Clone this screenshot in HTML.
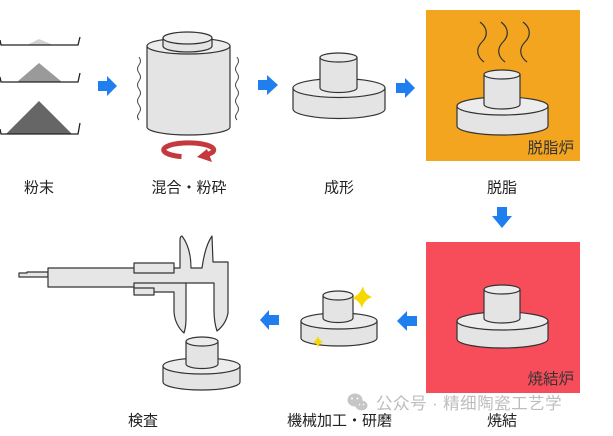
<!DOCTYPE html>
<html><head><meta charset="utf-8"><style>
html,body{margin:0;padding:0;background:#fff;}
svg{display:block;}
text{font-family:"Liberation Sans","Noto Sans CJK JP",sans-serif;}
</style></head><body>
<svg width="613" height="436" viewBox="0 0 613 436" xmlns="http://www.w3.org/2000/svg">
<rect width="613" height="436" fill="#fff"/>

<!-- Powder trays -->
<polygon points="27,45 39,39 53,45" fill="#d2d2d2"/>
<polyline points="0,40 1,45 78,45 80,37" fill="none" stroke="#222" stroke-width="1.3"/>
<polygon points="17,82 39,63 62,82" fill="#9a9a9a"/>
<polyline points="0,77 1,82 78,82 80,73" fill="none" stroke="#222" stroke-width="1.3"/>
<polygon points="6,134 39,101 72,134" fill="#666"/>
<polyline points="0,129 1,134 78,134 80,123" fill="none" stroke="#222" stroke-width="1.3"/>

<!-- Blue arrows -->
<g fill="#1f7fef">
<polygon points="98,81 107,81 107,76 117,86 107,96 107,91 98,91"/>
<polygon points="258,80 267,80 267,75 278,85 267,95 267,90 258,90"/>
<polygon points="396,83 405,83 405,78 415,88 405,98 405,93 396,93"/>
<polygon points="497,207 507,207 507,216 512,216 502,228 492,216 497,216"/>
<polygon points="417,316 407,316 407,311 397,321 407,331 407,326 417,326"/>
<polygon points="279,315 269,315 269,310 260,320 269,330 269,325 279,325"/>
</g>

<!-- Mixing cylinder -->
<g stroke="#333" stroke-width="1.2">
<path d="M147,46 L147,127 A41.5,8 0 0 0 230,127 L230,46 Z" fill="#e4e4e4"/>
<ellipse cx="188.5" cy="46" rx="41.5" ry="8" fill="#ececec"/>
<path d="M163,38 L163,46 A24.5,6 0 0 0 212,46 L212,38 Z" fill="#e4e4e4"/>
<ellipse cx="187.5" cy="38" rx="24.5" ry="6" fill="#ececec"/>
</g>
<g fill="none" stroke="#444" stroke-width="1">
<path d="M139,57 q3,4 0,8 q-3,4 0,8 q3,4 0,8 q-3,4 0,8 q3,4 0,8 q-3,4 0,8 q3,4 0,8 q-3,4 0,7"/>
<path d="M237,57 q3,4 0,8 q-3,4 0,8 q3,4 0,8 q-3,4 0,8 q3,4 0,8 q-3,4 0,8 q3,4 0,8 q-3,4 0,7"/>
</g>
<!-- rotation arrow -->
<path d="M181.5,156.6 A25,7 0 1 1 205,155.2" fill="none" stroke="#c4393d" stroke-width="5"/>
<polygon points="197,157 207,149 212,162" fill="#c4393d"/>

<!-- Forming workpiece -->
<g stroke="#333" stroke-width="1.2">
<path d="M293,88 L293,109 A46,9.5 0 0 0 385,109 L385,88 Z" fill="#e4e4e4"/>
<ellipse cx="339" cy="88" rx="46" ry="9.5" fill="#ececec"/>
<path d="M320,57.5 L320,88 A18.5,4.5 0 0 0 357,88 L357,57.5 Z" fill="#e4e4e4"/>
<ellipse cx="338.5" cy="57.5" rx="18.5" ry="4.5" fill="#ececec"/>
</g>

<!-- Debinding furnace -->
<rect x="426" y="10" width="154" height="151" fill="#f3a520"/>
<g fill="none" stroke="#333" stroke-width="1.2">
<path d="M480,22 C488,28 488,36 482,42 C476,48 476,56 484,62"/>
<path d="M501,22 C509,28 509,36 503,42 C497,48 497,56 505,62"/>
<path d="M523,22 C531,28 531,36 525,42 C519,48 519,56 527,62"/>
</g>
<g stroke="#333" stroke-width="1.2">
<path d="M457,106 L457,126 A45.5,9 0 0 0 548,126 L548,106 Z" fill="#e4e4e4"/>
<ellipse cx="502.5" cy="106" rx="45.5" ry="9" fill="#ececec"/>
<path d="M484,74.5 L484,104.5 A18,4.5 0 0 0 520,104.5 L520,74.5 Z" fill="#e4e4e4"/>
<ellipse cx="502" cy="74.5" rx="18" ry="4.5" fill="#ececec"/>
</g>
<text x="574" y="153" font-size="15.5" fill="#333" text-anchor="end">脱脂炉</text>

<!-- Sintering furnace -->
<rect x="426" y="242" width="154" height="151" fill="#f74d5a"/>
<g stroke="#333" stroke-width="1.2">
<path d="M457,321 L457,339 A45.5,9 0 0 0 548,339 L548,321 Z" fill="#e4e4e4"/>
<ellipse cx="502.5" cy="321" rx="45.5" ry="9" fill="#ececec"/>
<path d="M484,289.5 L484,318.5 A18,4.5 0 0 0 520,318.5 L520,289.5 Z" fill="#e4e4e4"/>
<ellipse cx="502" cy="289.5" rx="18" ry="4.5" fill="#ececec"/>
</g>
<text x="574" y="384" font-size="15.5" fill="#333" text-anchor="end">焼結炉</text>

<!-- Machining workpiece -->
<g stroke="#333" stroke-width="1.2">
<path d="M301,321 L301,338 A38,8 0 0 0 377,338 L377,321 Z" fill="#e4e4e4"/>
<ellipse cx="339" cy="321" rx="38" ry="8" fill="#ececec"/>
<path d="M323,295.5 L323,318 A15,4.5 0 0 0 353,318 L353,295.5 Z" fill="#e4e4e4"/>
<ellipse cx="338" cy="295.5" rx="15" ry="4.5" fill="#ececec"/>
</g>
<path d="M363,286 Q364,294 372,297 Q364,300 362,308 Q359,300 352,298 Q360,295 363,286 Z" fill="#f6d800"/>
<path d="M318,336 Q319,340 323,342 Q319,343 318,348 Q317,343 313,342 Q317,340 318,336 Z" fill="#f6d800"/>

<!-- Inspection workpiece -->
<g stroke="#333" stroke-width="1.2">
<path d="M163,366 L163,382 A38.5,8 0 0 0 240,382 L240,366 Z" fill="#e4e4e4"/>
<ellipse cx="201.5" cy="366" rx="38.5" ry="8" fill="#ececec"/>
<path d="M186,341.5 L186,364 A16,4.5 0 0 0 218,364 L218,341.5 Z" fill="#e4e4e4"/>
<ellipse cx="202" cy="341.5" rx="16" ry="4.5" fill="#ececec"/>
</g>

<!-- Caliper -->
<g stroke="#333" stroke-width="1.2" fill="#e6e6e6" stroke-linejoin="round">
<polygon points="19,273 27,273 27,272 48,272 48,277 19,277"/>
<path d="M48,268 L180,268 L180,241 Q180,236 182,236 Q191,248 191,268 L202,268 Q205,246 212,236 L213,262 L228,262 L228,313 Q226,324 217,331 Q214,322 214,310 L214,283 L186,283 L186,318 Q186,327 184,333 Q175,325 174,312 L174,292 L134,292 L134,287 L48,287 Z"/>
<rect x="134" y="263" width="40" height="10"/>
<rect x="134" y="288" width="20" height="7"/>
<path d="M134,287 L134,283 L186,283" fill="none"/>
</g>

<!-- Watermark -->
<g fill="#c6c6c6">
<ellipse cx="355" cy="400" rx="7.5" ry="6.5"/>
<ellipse cx="361.5" cy="405.5" rx="6" ry="5"/>
</g>
<g fill="#fff">
<circle cx="352" cy="398.5" r="1"/><circle cx="357.5" cy="398.5" r="1"/>
<circle cx="359.5" cy="404.5" r="0.8"/><circle cx="363.5" cy="404.5" r="0.8"/>
</g>
<text x="376" y="409" font-size="16.5" fill="#bdbdbd" letter-spacing="0.5">公众号 · 精细陶瓷工艺学</text>

<!-- Labels -->
<g font-size="15" fill="#222" text-anchor="middle">
<text x="39" y="192.5">粉末</text>
<text x="189" y="192.5">混合・粉砕</text>
<text x="339" y="192.5">成形</text>
<text x="502" y="192.5">脱脂</text>
<text x="143" y="425.5">検査</text>
<text x="339.5" y="425.5">機械加工・研磨</text>
<text x="502" y="425.5">焼結</text>
</g>
</svg>
</body></html>
